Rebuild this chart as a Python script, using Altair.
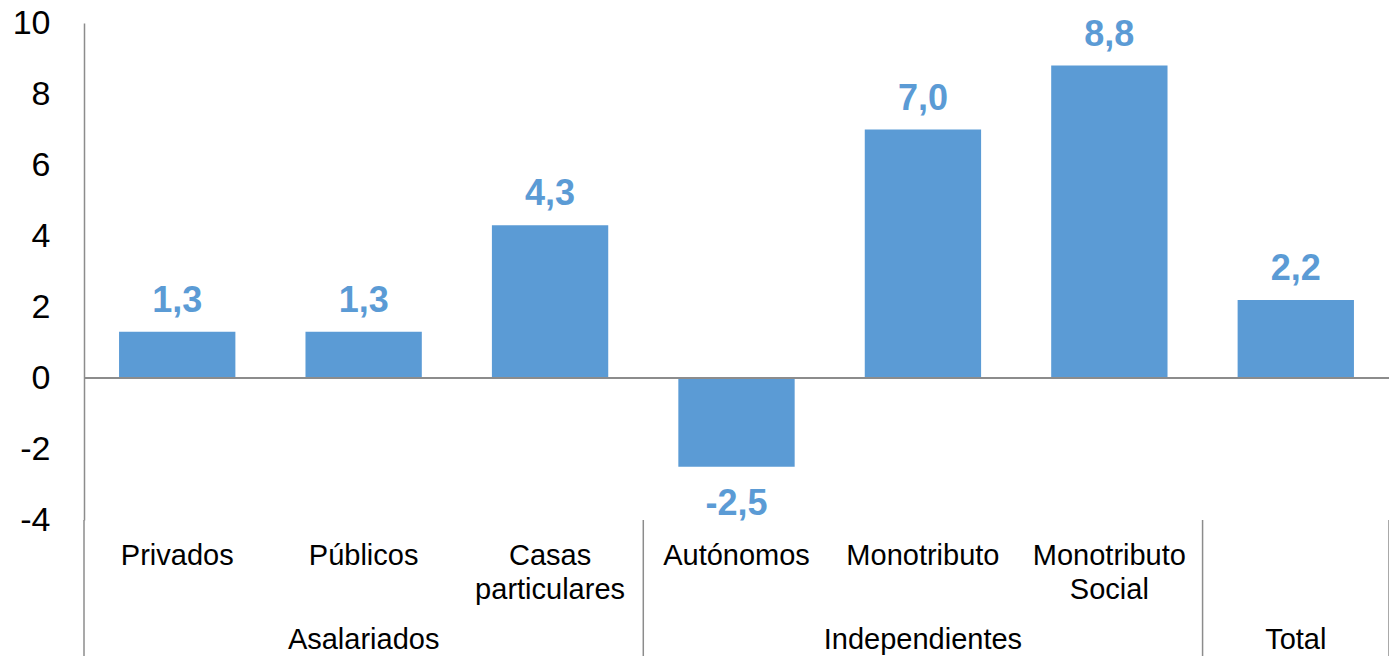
import altair as alt
import pandas as pd

categories = ["Privados", "Públicos", "Casas particulares", "Autónomos",
              "Monotributo", "Monotributo Social", "Total"]
values = [1.3, 1.3, 4.3, -2.5, 7.0, 8.8, 2.2]
groups = ["Asalariados", "Independientes", "Total"]
group_center_cat = ["Públicos", "Monotributo", "Total"]
separator_cats = ["Autónomos", "Total"]
y_ticks = [-4, -2, 0, 2, 4, 6, 8, 10]

BLUE = "#5B9BD5"
GRAY = "#8C8C8C"
FONT = "Liberation Sans"

df = pd.DataFrame({"cat": categories, "v": values})
gdf = pd.DataFrame({"cat": group_center_cat, "g": groups})
sdf = pd.DataFrame({"cat": separator_cats})
edf = pd.DataFrame({"cat": [categories[-1]]})
zdf = pd.DataFrame({"z": [0]})

W, H = 1305, 497

xscale = alt.Scale(domain=categories, paddingInner=0, paddingOuter=0)
yscale = alt.Scale(domain=[-4, 10], nice=False, zero=False)

xenc = alt.X("cat:N", scale=xscale, sort=categories,
             axis=alt.Axis(title=None,
                           labelExpr="datum.label == 'Total' ? '' : split(datum.label, ' ')",
                           labelAngle=0, labelFontSize=29, labelFont=FONT,
                           labelColor="#000000", labelLineHeight=34,
                           labelBaseline="alphabetic", labelPadding=44,
                           ticks=False, tickSize=0, domain=False, grid=False,
                           labelLimit=400))

bars = alt.Chart(df).mark_bar(color=BLUE, width=alt.RelativeBandSize(0.624)).encode(
    x=xenc,
    y=alt.Y("v:Q", scale=yscale,
            axis=alt.Axis(title=None, values=y_ticks, grid=False, ticks=False,
                          tickSize=0, labelFontSize=34, labelFont=FONT,
                          labelExpr="datum.value + ''",
                          labelColor="#000000", labelPadding=34,
                          domainColor=GRAY, domainWidth=1.5)),
)

lab_expr = "replace(replace(format(datum.v, '.1f'), '.', ','), '\u2212', '-')"

pos_labels = alt.Chart(df).transform_filter("datum.v >= 0").transform_calculate(
    lab=lab_expr
).mark_text(color=BLUE, fontSize=36, fontWeight="bold", font=FONT,
            baseline="alphabetic", dy=-20).encode(
    x=alt.X("cat:N", scale=xscale, sort=categories),
    y=alt.Y("v:Q", scale=yscale),
    text="lab:N",
)

neg_labels = alt.Chart(df).transform_filter("datum.v < 0").transform_calculate(
    lab=lab_expr
).mark_text(color=BLUE, fontSize=36, fontWeight="bold", font=FONT,
            baseline="alphabetic", dy=48).encode(
    x=alt.X("cat:N", scale=xscale, sort=categories),
    y=alt.Y("v:Q", scale=yscale),
    text="lab:N",
)

zero = alt.Chart(zdf).mark_rule(color=GRAY, strokeWidth=2).encode(
    y=alt.Y("z:Q", scale=yscale),
)

seps = alt.Chart(sdf).mark_rule(color=GRAY, strokeWidth=1.5).encode(
    x=alt.X("cat:N", scale=xscale, sort=categories, bandPosition=0),
    y=alt.value(H), y2=alt.value(H + 145),
)

right_edge = alt.Chart(edf).mark_rule(color=GRAY, strokeWidth=1.5).encode(
    x=alt.X("cat:N", scale=xscale, sort=categories, bandPosition=1),
    y=alt.value(H), y2=alt.value(H + 145),
)

left_ext = alt.Chart(zdf).mark_rule(color=GRAY, strokeWidth=1.5).encode(
    x=alt.value(0), y=alt.value(H), y2=alt.value(H + 145),
)

group_labels = alt.Chart(gdf).mark_text(fontSize=29, font=FONT, color="#000000",
                                        baseline="alphabetic").encode(
    x=alt.X("cat:N", scale=xscale, sort=categories),
    y=alt.value(H + 129),
    text="g:N",
)

chart = alt.layer(bars, zero, pos_labels, neg_labels, seps, right_edge,
                  left_ext, group_labels).properties(
    width=W, height=H,
    background="white",
    autosize=alt.AutoSizeParams(type="none"),
    padding={"left": 76, "top": 15, "right": 0, "bottom": 138},
).configure_view(stroke=None)

chart.save("out.html", embed_options={"renderer": "svg", "actions": False})
